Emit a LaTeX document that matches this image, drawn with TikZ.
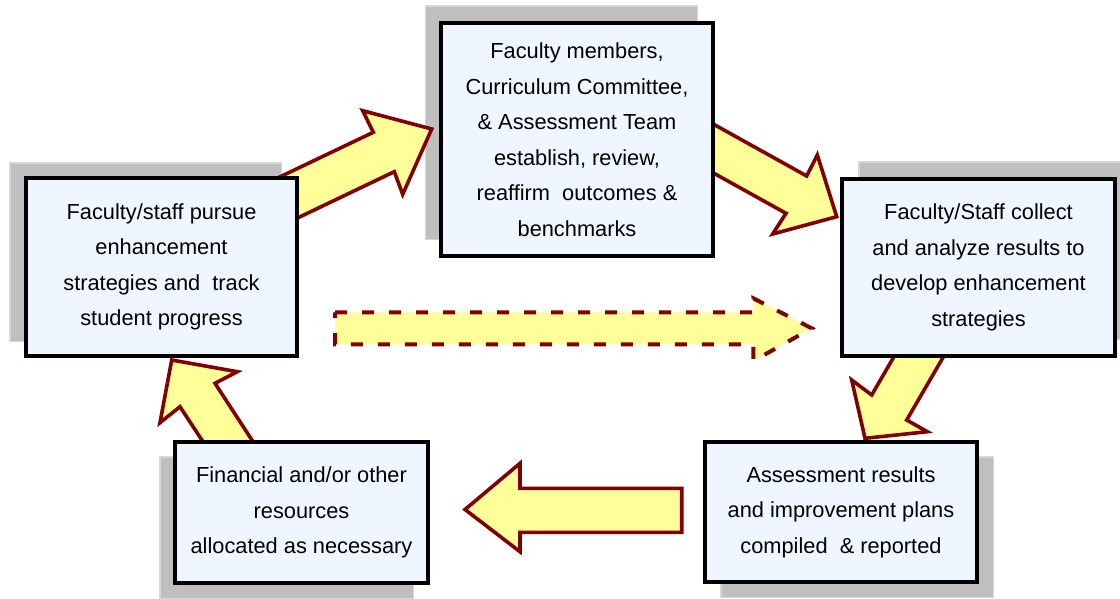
\documentclass[tikz,border=0pt]{standalone}
\usepackage{fontspec}
\setmainfont{Liberation Sans}
\pgfdeclarelayer{shadowlayer}
\pgfdeclarelayer{arrowlayer}
\pgfsetlayers{shadowlayer,arrowlayer,main}
\definecolor{boxfill}{RGB}{239,246,255}
\definecolor{shadowgray}{RGB}{191,191,191}
\definecolor{shadowedge}{RGB}{215,215,215}
\definecolor{arrowfill}{RGB}{255,255,153}
\definecolor{arrowedge}{RGB}{128,0,0}
\tikzset{
  box/.style={draw=black, line width=3.8pt, fill=boxfill, inner sep=0pt, outer sep=0pt,
    align=center, font=\fontsize{21.8}{35.5}\selectfont, text=black},
  shadowbox/.style={fill=shadowgray, draw=shadowedge, line width=1.2pt},
  blockarrow/.style={fill=arrowfill, draw=arrowedge, line width=3.6pt, line join=miter, miter limit=10},
  dashedarrow/.style={blockarrow, line width=4pt, dash pattern=on 12pt off 15pt},
}
\newcommand\shadowof[3]{\path[shadowbox] ([shift={(#2,#3)}]#1.south west) rectangle ([shift={(#2,#3)}]#1.north east);}
\begin{document}
\begin{tikzpicture}[x=1pt,y=-1pt]
\useasboundingbox (0,0) rectangle (1120,598);
\clip (0,0) rectangle (1120,598);

% boxes
\node[box, minimum width=271.2pt, minimum height=178.2pt] (b1) at (161.5,267)
  {Faculty/staff pursue\\enhancement\\strategies and\ \ track\\student progress};
\node[box, minimum width=272.2pt, minimum height=233.2pt] (b2) at (577,139.5)
  {Faculty members,\\Curriculum Committee,\\\& Assessment Team\\establish, review,\\reaffirm\ \ outcomes \&\\benchmarks};
\node[box, minimum width=273.2pt, minimum height=177.2pt] (b3) at (978.5,267.5)
  {Faculty/Staff collect\\and analyze results to\\develop enhancement\\strategies};
\node[box, minimum width=272.2pt, minimum height=140.2pt] (b4) at (841,512)
  {Assessment results\\and improvement plans\\compiled\ \ \& reported};
\node[box, minimum width=253.2pt, minimum height=141.2pt] (b5) at (301.5,512.5)
  {Financial and/or other\\resources\\allocated as necessary};

% shadows
\begin{pgfonlayer}{shadowlayer}
  \shadowof{b1}{-16}{-15}
  \shadowof{b2}{-15.5}{-17}
  \shadowof{b3}{17}{-17}
  \shadowof{b4}{16}{15}
  \shadowof{b5}{-15}{15}
\end{pgfonlayer}

% block arrows
\begin{pgfonlayer}{arrowlayer}
  \path[blockarrow] (265,184) -- (373.3,132.3) -- (362.7,110.7) -- (431.7,129)
    -- (402.7,194.3) -- (394.3,171.7) -- (286,223.5) -- cycle;
  \path[blockarrow] (701.8,117.7) -- (806.7,176) -- (817.3,155) -- (836.7,216.7)
    -- (772.7,234) -- (786,213.3) -- (681,155) -- cycle;
  \path[blockarrow] (917,317) -- (871.7,395) -- (851.7,380) -- (865,438.3)
    -- (927.3,431.7) -- (906.7,420) -- (952,342) -- cycle;
  \path[blockarrow] (681.7,488.3) -- (520,488.3) -- (520,463.3) -- (465,509.5)
    -- (520,551.7) -- (520,532.3) -- (681.7,532.3) -- cycle;
  \path[blockarrow] (264,458.6) -- (215,383.3) -- (237.3,371.7) -- (171.7,360)
    -- (160,422.7) -- (180,406.7) -- (218.4,465.2) -- cycle;
  \path[dashedarrow] (335,312.3) -- (753.3,312.3) -- (753.3,298.3) -- (811.7,328.3)
    -- (753.3,361) -- (753.3,344.3) -- (335,344.3) -- cycle;
\end{pgfonlayer}
\end{tikzpicture}
\end{document}
